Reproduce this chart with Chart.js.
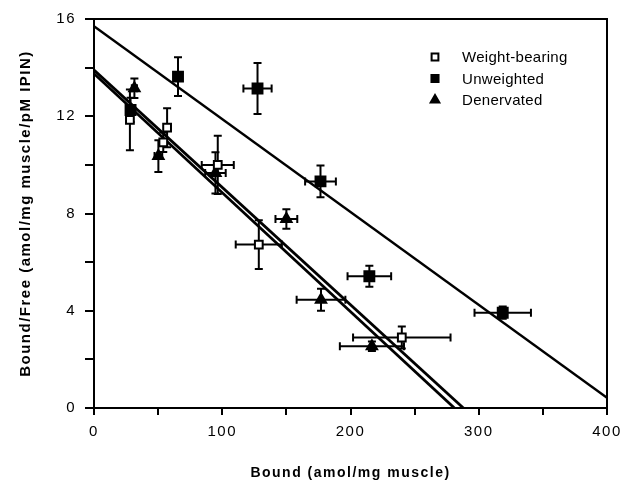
<!DOCTYPE html>
<html>
<head>
<meta charset="utf-8">
<script src="https://cdn.jsdelivr.net/npm/chart.js@4"></script>
<style>
  html, body { margin: 0; padding: 0; background: #fff; }
  canvas { display: block; }
</style>
</head>
<body>
<canvas id="chart" width="630" height="486"></canvas>
<script>
// Scatchard plot: bound vs bound/free, three groups with SEM bars
const wbX = [28, 54, 57, 96.5, 128.5, 240]
const wbY = [11.85, 10.93, 11.53, 10.0, 6.72, 2.9]
const wbXErr = [2, 2, 2, 12.5, 18, 38]
const wbYErr = [1.25, 0.4, 0.8, 1.2, 1.0, 0.45]

const uwX = [28.5, 65.5, 127.5, 176.6, 214.7, 318.7]
const uwY = [12.26, 13.63, 13.14, 9.32, 5.42, 3.92]
const uwXErr = [2, 2.5, 11, 12, 17, 22]
const uwYErr = [0.5, 0.8, 1.05, 0.65, 0.43, 0.25]

const dnX = [31.5, 50.2, 94.7, 150, 177, 216.7]
const dnY = [13.15, 10.36, 9.67, 7.77, 4.45, 2.54]
const dnXErr = [2, 3, 8, 8.5, 19, 25]
const dnYErr = [0.4, 0.65, 0.85, 0.4, 0.45, 0.2]

// regression lines (end points)
const uwFitX = [0, 400]
const uwFitY = [15.7, 0.42]
const wbFitX = [0, 288]
const wbFitY = [13.9, 0]
const dnFitX = [0, 281]
const dnFitY = [13.75, 0]

const xTickLabels = [0, 100, 200, 300, 400]
const yTickLabels = [0, 4, 8, 12, 16]

const FONT = "'Liberation Sans', Arial, Helvetica, sans-serif"

const toPoints = (xs, ys) => xs.map((x, i) => ({ x, y: ys[i] }))

const pointSet = (label, xs, ys, xErr, yErr, style) => ({
  label,
  data: toPoints(xs, ys),
  xErr,
  yErr,
  showLine: false,
  pointBorderColor: '#000',
  pointBorderWidth: 2,
  pointHoverRadius: 0,
  ...style,
})

const fitLine = (xs, ys, width) => ({
  data: toPoints(xs, ys),
  showLine: true,
  pointRadius: 0,
  borderColor: '#000',
  borderWidth: width,
  fill: false,
})

// scanned-figure lettering is a bit spread out
const letterSpacing = {
  id: 'letterSpacing',
  beforeDraw(chart) {
    chart.ctx.letterSpacing = '1.5px'
  },
  beforeDatasetsDraw(chart) {
    chart.ctx.letterSpacing = '0px'
  },
}

const errorBars = {
  id: 'errorBars',
  beforeDatasetsDraw(chart) {
    const { ctx, scales: { x, y } } = chart
    const cap = 4
    ctx.save()
    ctx.strokeStyle = '#000'
    ctx.lineWidth = 2
    chart.data.datasets.forEach((ds) => {
      if (!ds.xErr) return
      ds.data.forEach((p, i) => {
        const px = x.getPixelForValue(p.x)
        const py = y.getPixelForValue(p.y)
        const xl = x.getPixelForValue(p.x - ds.xErr[i])
        const xr = x.getPixelForValue(p.x + ds.xErr[i])
        const yt = y.getPixelForValue(p.y + ds.yErr[i])
        const yb = y.getPixelForValue(p.y - ds.yErr[i])
        ctx.beginPath()
        ctx.moveTo(xl, py); ctx.lineTo(xr, py)
        ctx.moveTo(xl, py - cap); ctx.lineTo(xl, py + cap)
        ctx.moveTo(xr, py - cap); ctx.lineTo(xr, py + cap)
        ctx.moveTo(px, yt); ctx.lineTo(px, yb)
        ctx.moveTo(px - cap, yt); ctx.lineTo(px + cap, yt)
        ctx.moveTo(px - cap, yb); ctx.lineTo(px + cap, yb)
        ctx.stroke()
      })
    })
    ctx.restore()
  },
}

const frameAndLegend = {
  id: 'frameAndLegend',
  afterDraw(chart) {
    const { ctx, chartArea: a } = chart
    ctx.save()
    ctx.strokeStyle = '#000'
    ctx.lineWidth = 2
    ctx.beginPath()
    ctx.moveTo(a.left, a.top)
    ctx.lineTo(a.right, a.top)
    ctx.lineTo(a.right, a.bottom)
    ctx.stroke()

    const items = chart.data.datasets.filter(ds => ds.label)
    const lx = a.right - 172
    let ly = a.top + 38
    ctx.font = `15px ${FONT}`
    ctx.textBaseline = 'middle'
    ctx.letterSpacing = '0.3px'
    items.forEach((ds) => {
      ctx.fillStyle = ds.pointBackgroundColor
      ctx.strokeStyle = '#000'
      Chart.helpers.drawPoint(ctx, {
        pointStyle: ds.pointStyle,
        radius: ds.legendRadius,
        rotation: 0,
        borderWidth: 2,
      }, lx, ly)
      ctx.fillStyle = '#000'
      ctx.fillText(ds.label, lx + 27, ly + 1)
      ly += 21.5
    })
    ctx.restore()
  },
}

new Chart(document.getElementById('chart'), {
  type: 'scatter',
  data: {
    datasets: [
      pointSet('Weight-bearing', wbX, wbY, wbXErr, wbYErr, {
        pointStyle: 'rect', pointRadius: 5.5, pointBackgroundColor: '#fff', legendRadius: 4.8,
      }),
      pointSet('Unweighted', uwX, uwY, uwXErr, uwYErr, {
        pointStyle: 'rect', pointRadius: 7, pointBackgroundColor: '#000', legendRadius: 5,
      }),
      pointSet('Denervated', dnX, dnY, dnXErr, dnYErr, {
        pointStyle: 'triangle', pointRadius: 6, pointBackgroundColor: '#000', legendRadius: 5,
      }),
      fitLine(uwFitX, uwFitY, 2.3),
      fitLine(wbFitX, wbFitY, 2.8),
      fitLine(dnFitX, dnFitY, 2.8),
    ],
  },
  options: {
    responsive: false,
    animation: false,
    events: [],
    layout: { padding: { top: 19, right: 23, left: 0, bottom: 0 } },
    plugins: {
      legend: { display: false },
      tooltip: { enabled: false },
    },
    scales: {
      x: {
        type: 'linear',
        min: 0,
        max: 400,
        ticks: {
          stepSize: 50,
          autoSkip: false,
          maxRotation: 0,
          padding: 8,
          color: '#000',
          font: { family: FONT, size: 15 },
          callback: v => xTickLabels.includes(v) ? String(v) : '',
        },
        grid: { drawOnChartArea: false, tickLength: 7, color: '#000', lineWidth: 2 },
        border: { display: true, color: '#000', width: 2 },
        title: {
          display: true,
          text: 'Bound (amol/mg muscle)',
          color: '#000',
          font: { family: FONT, size: 14, weight: 'bold' },
          padding: { top: 0, bottom: 4 },
        },
        afterFit: (s) => { s.height = 78 },
      },
      y: {
        type: 'linear',
        min: 0,
        max: 16,
        ticks: {
          stepSize: 2,
          autoSkip: false,
          padding: 9,
          color: '#000',
          font: { family: FONT, size: 15 },
          callback: v => yTickLabels.includes(v) ? String(v) : '',
        },
        grid: { drawOnChartArea: false, tickLength: 9, color: '#000', lineWidth: 2 },
        border: { display: true, color: '#000', width: 2 },
        title: {
          display: true,
          text: 'Bound/Free (amol/mg muscle/pM IPIN)',
          color: '#000',
          font: { family: FONT, size: 15, weight: 'bold' },
          padding: { top: 17, bottom: 0 },
        },
        afterFit: (s) => { s.width = 94 },
      },
    },
  },
  plugins: [letterSpacing, errorBars, frameAndLegend],
})
</script>
</body>
</html>
